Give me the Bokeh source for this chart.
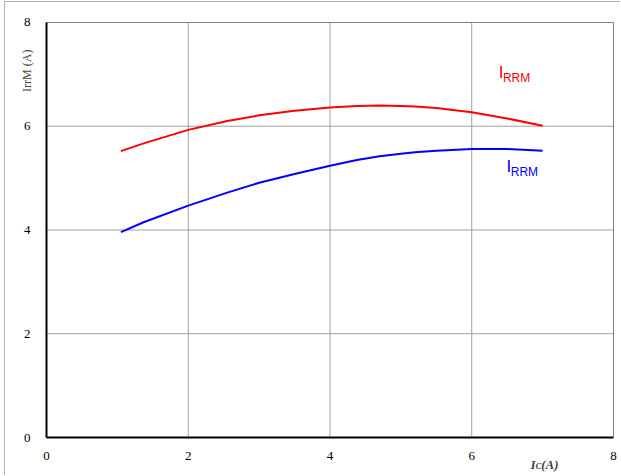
import math
from bokeh.plotting import figure
from bokeh.models import Label, Range1d, FixedTicker, LinearAxis
from bokeh.embed import file_html
from bokeh.resources import INLINE

# Data
ic = [1.05, 1.37, 2.0, 2.55, 3.0, 3.5, 4.0, 4.38, 4.7, 5.0, 5.2, 5.5, 6.0, 6.5, 7.0]
irrm_red = [5.52, 5.67, 5.93, 6.10, 6.21, 6.30, 6.36, 6.39, 6.40, 6.39, 6.38, 6.35, 6.27, 6.15, 6.01]
irrm_blue = [3.96, 4.15, 4.47, 4.72, 4.91, 5.08, 5.24, 5.35, 5.42, 5.47, 5.50, 5.53, 5.56, 5.56, 5.53]
ticks = [0, 2, 4, 6, 8]
grid_ticks = [2, 4, 6]
axis_min, axis_max = 0, 8

# Frame covers the whole canvas; axes are fixed at data 0 so outside texts are not clipped
p = figure(width=616, height=474,
           x_range=Range1d(-0.5785, 8.1129), y_range=Range1d(-0.7518, 8.3855),
           output_backend="svg", toolbar_location=None,
           x_axis_location=None, y_axis_location=None,
           min_border_left=0, min_border_right=0, min_border_top=0, min_border_bottom=0)
p.styles = {"margin-left": "4px", "margin-top": "1px",
            "border-left": "1px solid #b4b4b4", "border-top": "1px solid #b4b4b4"}
p.background_fill_color = "white"
p.border_fill_color = "white"
p.outline_line_color = None
p.xgrid.visible = False
p.ygrid.visible = False

# grid lines and top/right frame edges
n = len(grid_ticks)
p.segment(x0=grid_ticks, y0=[axis_min] * n, x1=grid_ticks, y1=[axis_max] * n,
          line_color="#a0a0a0", line_width=1, level="underlay")
p.segment(x0=[axis_min] * n, y0=grid_ticks, x1=[axis_max] * n, y1=grid_ticks,
          line_color="#a0a0a0", line_width=1, level="underlay")
p.segment(x0=[axis_min, axis_max], y0=[axis_max, axis_min], x1=[axis_max, axis_max], y1=[axis_max, axis_max],
          line_color="#808080", line_width=1, level="underlay")

xaxis = LinearAxis(fixed_location=0, bounds=(axis_min, axis_max))
yaxis = LinearAxis(fixed_location=0, bounds=(axis_min, axis_max))
for ax in (xaxis, yaxis):
    ax.ticker = FixedTicker(ticks=ticks)
    ax.major_tick_line_color = None
    ax.minor_tick_line_color = None
    ax.axis_line_color = "black"
    ax.axis_line_width = 2
    ax.major_label_text_font = "Liberation Serif"
    ax.major_label_text_font_size = "13px"
    ax.major_label_text_color = "black"
xaxis.major_label_standoff = 8
yaxis.major_label_standoff = 10
p.add_layout(xaxis, "below")
p.add_layout(yaxis, "left")

try:
    p.spline(ic, irrm_red, line_color="#ff0000", line_width=2, tension=0.5)
    p.spline(ic, irrm_blue, line_color="#0000ff", line_width=2, tension=0.5)
except Exception:
    p.line(ic, irrm_red, line_color="#ff0000", line_width=2)
    p.line(ic, irrm_blue, line_color="#0000ff", line_width=2)

# Curve labels
p.add_layout(Label(x=6.38, y=7.03, text="I", text_color="#ff0000",
                   text_font="Liberation Sans", text_font_size="17px", text_baseline="alphabetic"))
p.add_layout(Label(x=6.44, y=6.93, text="RRM", text_color="#ff0000",
                   text_font="Liberation Sans", text_font_size="12px", text_baseline="alphabetic"))
p.add_layout(Label(x=6.49, y=5.22, text="I", text_color="#0000ff",
                   text_font="Liberation Sans", text_font_size="17px", text_baseline="alphabetic"))
p.add_layout(Label(x=6.55, y=5.12, text="RRM", text_color="#0000ff",
                   text_font="Liberation Sans", text_font_size="12px", text_baseline="alphabetic"))

# Axis titles
p.add_layout(Label(x=-0.28, y=7.07, text="IrrM (A)", angle=math.pi / 2,
                   text_font="Liberation Serif", text_font_size="12px",
                   text_align="center", text_baseline="middle"))
p.add_layout(Label(x=6.83, y=-0.52, text="I", text_font="Liberation Serif",
                   text_font_style="bold italic", text_font_size="13px", text_baseline="alphabetic"))
p.add_layout(Label(x=6.90, y=-0.555, text="C", text_font="Liberation Serif",
                   text_font_style="bold italic", text_font_size="9px", text_baseline="alphabetic"))
p.add_layout(Label(x=6.98, y=-0.52, text="(A)", text_font="Liberation Serif",
                   text_font_style="bold italic", text_font_size="13px", text_baseline="alphabetic"))

open("out.html", "w").write(file_html(p, INLINE))
